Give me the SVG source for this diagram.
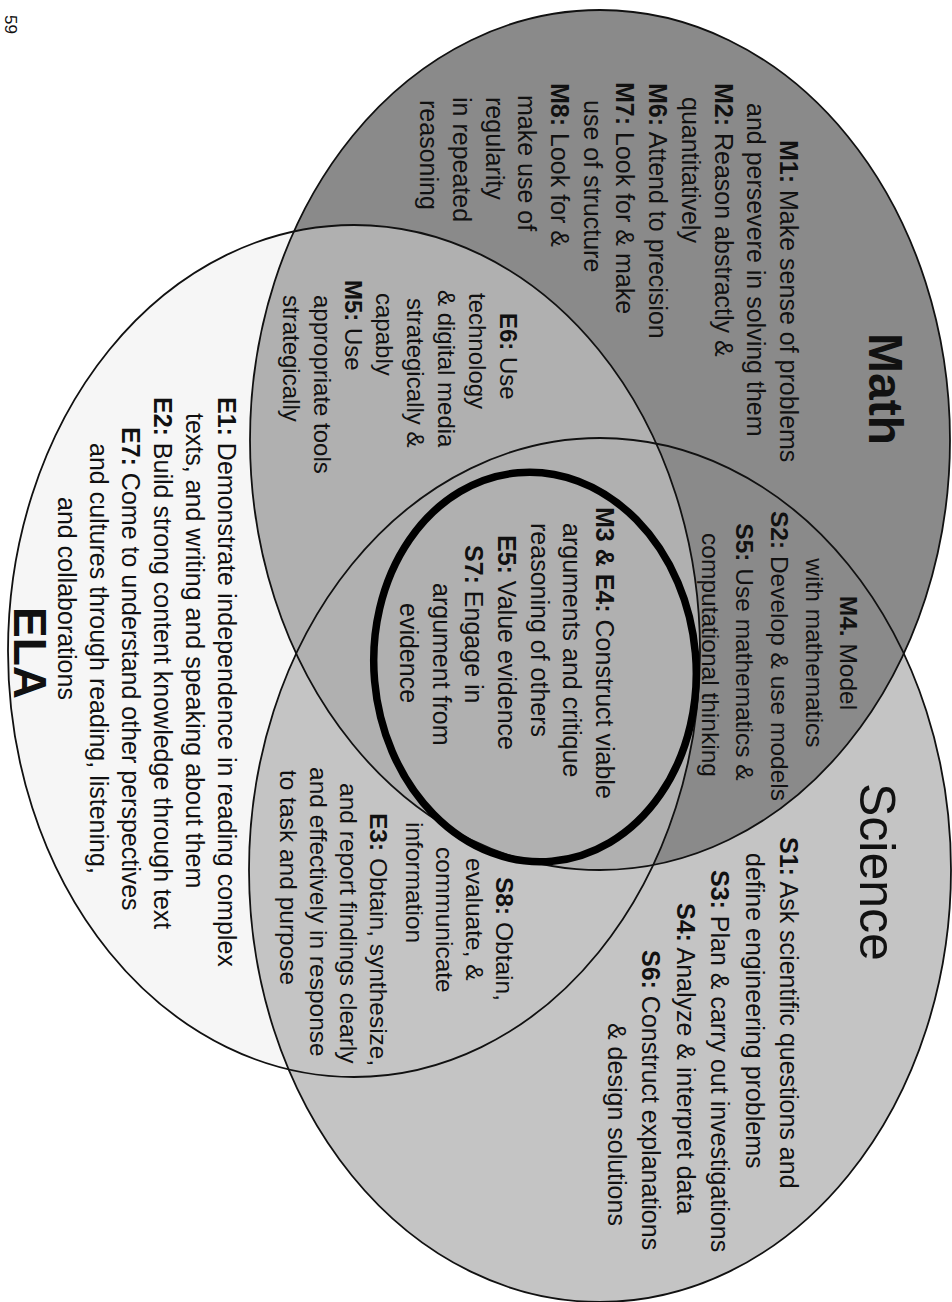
<svg xmlns="http://www.w3.org/2000/svg" xmlns:xlink="http://www.w3.org/1999/xlink" width="952" height="1302" viewBox="0 0 952 1302">
<style>
.t{font-family:"Liberation Sans",Arial,sans-serif;font-size:25px;fill:#111}
.s24{font-size:24px}
.s245{font-size:24.5px}
.b{font-weight:bold}
.mid{text-anchor:middle}
.ol{fill:none;stroke:#111;stroke-width:1.8}
</style>
<defs>
<ellipse id="eM" cx="600" cy="440" rx="350" ry="430"/>
<ellipse id="eS" cx="600" cy="870" rx="351" ry="432"/>
<ellipse id="eE" cx="354" cy="651" rx="346" ry="426"/>
<clipPath id="cM"><use href="#eM"/></clipPath>
</defs>
<rect width="952" height="1302" fill="#ffffff"/>

<g id="fills">
<use href="#eE" fill="#f6f6f6"/>
<use href="#eS" fill="#c4c4c4"/>
<use href="#eM" fill="#8a8a8a"/>
<use href="#eE" fill="#b0b0b0" clip-path="url(#cM)"/>
</g>

<g id="math">
<use href="#eM" class="ol"/>
<g transform="rotate(90)">
<text class="t b" x="333" y="-869" style="font-size:48px">Math</text>
<text class="t" x="140" y="-780"><tspan class="b">M1:</tspan> Make sense of problems</text>
<text class="t" x="103" y="-747">and persevere in solving them</text>
<text class="t" x="83" y="-715"><tspan class="b">M2:</tspan> Reason abstractly &amp;</text>
<text class="t" x="97" y="-682">quantitatively</text>
<text class="t" x="83" y="-649"><tspan class="b">M6:</tspan> Attend to precision</text>
<text class="t" x="82" y="-616"><tspan class="b">M7:</tspan> Look for &amp; make</text>
<text class="t" x="100" y="-584">use of structure</text>
<text class="t" x="83" y="-551"><tspan class="b">M8:</tspan> Look for &amp;</text>
<text class="t" x="95" y="-518">make use of</text>
<text class="t" x="97" y="-486">regularity</text>
<text class="t" x="97" y="-453">in repeated</text>
<text class="t" x="100" y="-420">reasoning</text>
</g>
</g>

<g id="science">
<use href="#eS" class="ol"/>
<g transform="rotate(90)">
<text class="t" x="783" y="-860" style="font-size:50px">Science</text>
<text class="t" x="837" y="-780"><tspan class="b">S1:</tspan> Ask scientific questions and</text>
<text class="t" x="853" y="-746">define engineering problems</text>
<text class="t" x="870" y="-711"><tspan class="b">S3:</tspan> Plan &amp; carry out investigations</text>
<text class="t" x="903" y="-677"><tspan class="b">S4:</tspan> Analyze &amp; interpret data</text>
<text class="t" x="950" y="-642"><tspan class="b">S6:</tspan> Construct explanations</text>
<text class="t" x="1023" y="-608">&amp; design solutions</text>
</g>
</g>

<g id="ela">
<use href="#eE" class="ol"/>
<g transform="rotate(90)">
<text class="t" x="397" y="-218"><tspan class="b">E1:</tspan> Demonstrate independence in reading complex</text>
<text class="t" x="413" y="-186">texts, and writing and speaking about them</text>
<text class="t" x="397" y="-154"><tspan class="b">E2:</tspan> Build strong content knowledge through text</text>
<text class="t" x="427" y="-122"><tspan class="b">E7:</tspan> Come to understand other perspectives</text>
<text class="t" x="443" y="-90">and cultures through reading, listening,</text>
<text class="t" x="497" y="-58">and collaborations</text>
<text class="t b" x="607" y="-14" style="font-size:46px">ELA</text>
</g>
</g>

<g id="math-ela">
<g transform="rotate(90)">
<text class="t s24" x="313" y="-500"><tspan class="b">E6:</tspan> Use</text>
<text class="t s24" x="293" y="-469">technology</text>
<text class="t s24" x="290" y="-438">&amp; digital media</text>
<text class="t s24" x="298" y="-407">strategically &amp;</text>
<text class="t s24" x="293" y="-376">capably</text>
<text class="t s24" x="280" y="-345"><tspan class="b">M5:</tspan> Use</text>
<text class="t s24" x="295" y="-314">appropriate tools</text>
<text class="t s24" x="295" y="-283">strategically</text>
</g>
</g>

<g id="math-science">
<g transform="rotate(90)">
<text class="t s245 mid" x="653" y="-840"><tspan class="b">M4.</tspan> Model</text>
<text class="t s245 mid" x="653" y="-806">with mathematics</text>
<text class="t s245 mid" x="656" y="-771"><tspan class="b">S2:</tspan> Develop &amp; use models</text>
<text class="t s245 mid" x="652" y="-736"><tspan class="b">S5:</tspan> Use mathematics &amp;</text>
<text class="t s245 mid" x="655" y="-702">computational thinking</text>
</g>
</g>

<g id="science-ela">
<g transform="rotate(90)">
<text class="t s245" x="877" y="-496"><tspan class="b">S8:</tspan> Obtain,</text>
<text class="t s245" x="858" y="-466">evaluate, &amp;</text>
<text class="t s245" x="847" y="-436">communicate</text>
<text class="t s245" x="822" y="-406">information</text>
<text class="t s245" x="813" y="-370"><tspan class="b">E3:</tspan> Obtain, synthesize,</text>
<text class="t s245" x="783" y="-340">and report findings clearly</text>
<text class="t s245" x="767" y="-310">and effectively in response</text>
<text class="t s245" x="770" y="-280">to task and purpose</text>
</g>
</g>

<g id="core">
<ellipse cx="535" cy="667" rx="161" ry="195" transform="rotate(-5 535 667)" fill="none" stroke="#000" stroke-width="7.5"/>
<g transform="rotate(90)">
<text class="t" x="507" y="-596"><tspan class="b">M3 &amp; E4:</tspan> Construct viable</text>
<text class="t" x="523" y="-563">arguments and critique</text>
<text class="t" x="523" y="-531">reasoning of others</text>
<text class="t" x="535" y="-498"><tspan class="b">E5:</tspan> Value evidence</text>
<text class="t" x="545" y="-465"><tspan class="b">S7:</tspan> Engage in</text>
<text class="t" x="583" y="-433">argument from</text>
<text class="t" x="603" y="-400">evidence</text>
</g>
</g>

<g id="page-number">
<text class="t" transform="rotate(90)" x="15" y="-5" style="font-size:17px">59</text>
</g>
</svg>
